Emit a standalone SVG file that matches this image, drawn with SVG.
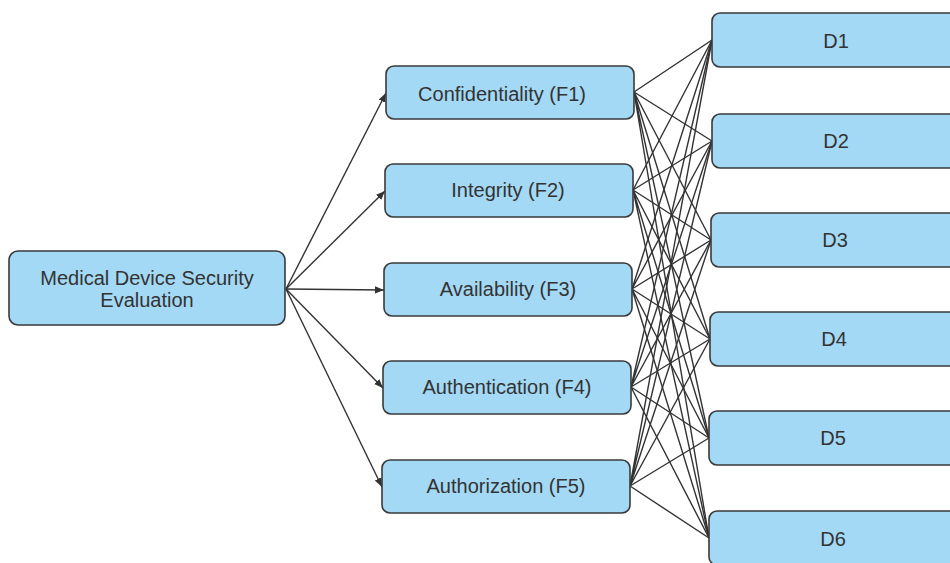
<svg xmlns="http://www.w3.org/2000/svg" width="950" height="563" viewBox="0 0 950 563">
<defs>
<marker id="ah" viewBox="0 0 10 10" refX="10" refY="5" markerWidth="9" markerHeight="9" markerUnits="userSpaceOnUse" orient="auto">
<path d="M0,1 L10,5 L0,9 z" fill="#333"/>
</marker>
<style>
.box{fill:#a3d9f5;stroke:#3a3a3a;stroke-width:1.6}
.t{font-family:"Liberation Sans",Arial,sans-serif;font-size:20px;fill:#333;text-anchor:middle;dominant-baseline:central}
.e{stroke:#333;stroke-width:1.4;fill:none}
</style>
</defs>
<rect width="950" height="563" fill="#fff"/>
<g id="connectors">
<line class="e" x1="286" y1="289" x2="386" y2="93" marker-end="url(#ah)"/>
<line class="e" x1="286" y1="289" x2="385" y2="191" marker-end="url(#ah)"/>
<line class="e" x1="286" y1="289" x2="384" y2="290" marker-end="url(#ah)"/>
<line class="e" x1="286" y1="289" x2="383" y2="388" marker-end="url(#ah)"/>
<line class="e" x1="286" y1="289" x2="382" y2="487" marker-end="url(#ah)"/>
<g id="f-d">
<path class="e" d="M634,92 L712,40 M634,92 L712,141 M634,92 L711,240 M634,92 L710,339 M634,92 L709,438 M634,92 L709,538"/>
<path class="e" d="M633,190 L712,40 M633,190 L712,141 M633,190 L711,240 M633,190 L710,339 M633,190 L709,438 M633,190 L709,538"/>
<path class="e" d="M632,289 L712,40 M632,289 L712,141 M632,289 L711,240 M632,289 L710,339 M632,289 L709,438 M632,289 L709,538"/>
<path class="e" d="M631,387 L712,40 M631,387 L712,141 M631,387 L711,240 M631,387 L710,339 M631,387 L709,438 M631,387 L709,538"/>
<path class="e" d="M630,486 L712,40 M630,486 L712,141 M630,486 L711,240 M630,486 L710,339 M630,486 L709,438 M630,486 L709,538"/>
</g>
</g>
<g id="root"><rect class="box" x="9" y="251" width="276" height="74" rx="9"/><text class="t" x="147" y="278">Medical Device Security</text><text class="t" x="147" y="300">Evaluation</text></g>
<g id="F1"><rect class="box" x="386" y="66" width="248" height="53" rx="8"/><text class="t" x="502" y="94">Confidentiality (F1)</text></g>
<g id="F2"><rect class="box" x="385" y="164" width="248" height="53" rx="8"/><text class="t" x="508" y="190">Integrity (F2)</text></g>
<g id="F3"><rect class="box" x="384" y="263" width="248" height="53" rx="8"/><text class="t" x="508" y="289">Availability (F3)</text></g>
<g id="F4"><rect class="box" x="383" y="361" width="248" height="53" rx="8"/><text class="t" x="507" y="387">Authentication (F4)</text></g>
<g id="F5"><rect class="box" x="382" y="460" width="248" height="53" rx="8"/><text class="t" x="506" y="486">Authorization (F5)</text></g>
<g id="D1"><rect class="box" x="712" y="13" width="250" height="54" rx="8"/><text class="t" x="836" y="41">D1</text></g>
<g id="D2"><rect class="box" x="712" y="114" width="250" height="54" rx="8"/><text class="t" x="836" y="141">D2</text></g>
<g id="D3"><rect class="box" x="711" y="213" width="250" height="54" rx="8"/><text class="t" x="835" y="240">D3</text></g>
<g id="D4"><rect class="box" x="710" y="312" width="250" height="54" rx="8"/><text class="t" x="834" y="339">D4</text></g>
<g id="D5"><rect class="box" x="709" y="411" width="250" height="54" rx="8"/><text class="t" x="833" y="438">D5</text></g>
<g id="D6"><rect class="box" x="709" y="511" width="250" height="54" rx="8"/><text class="t" x="833" y="539">D6</text></g>
</svg>
